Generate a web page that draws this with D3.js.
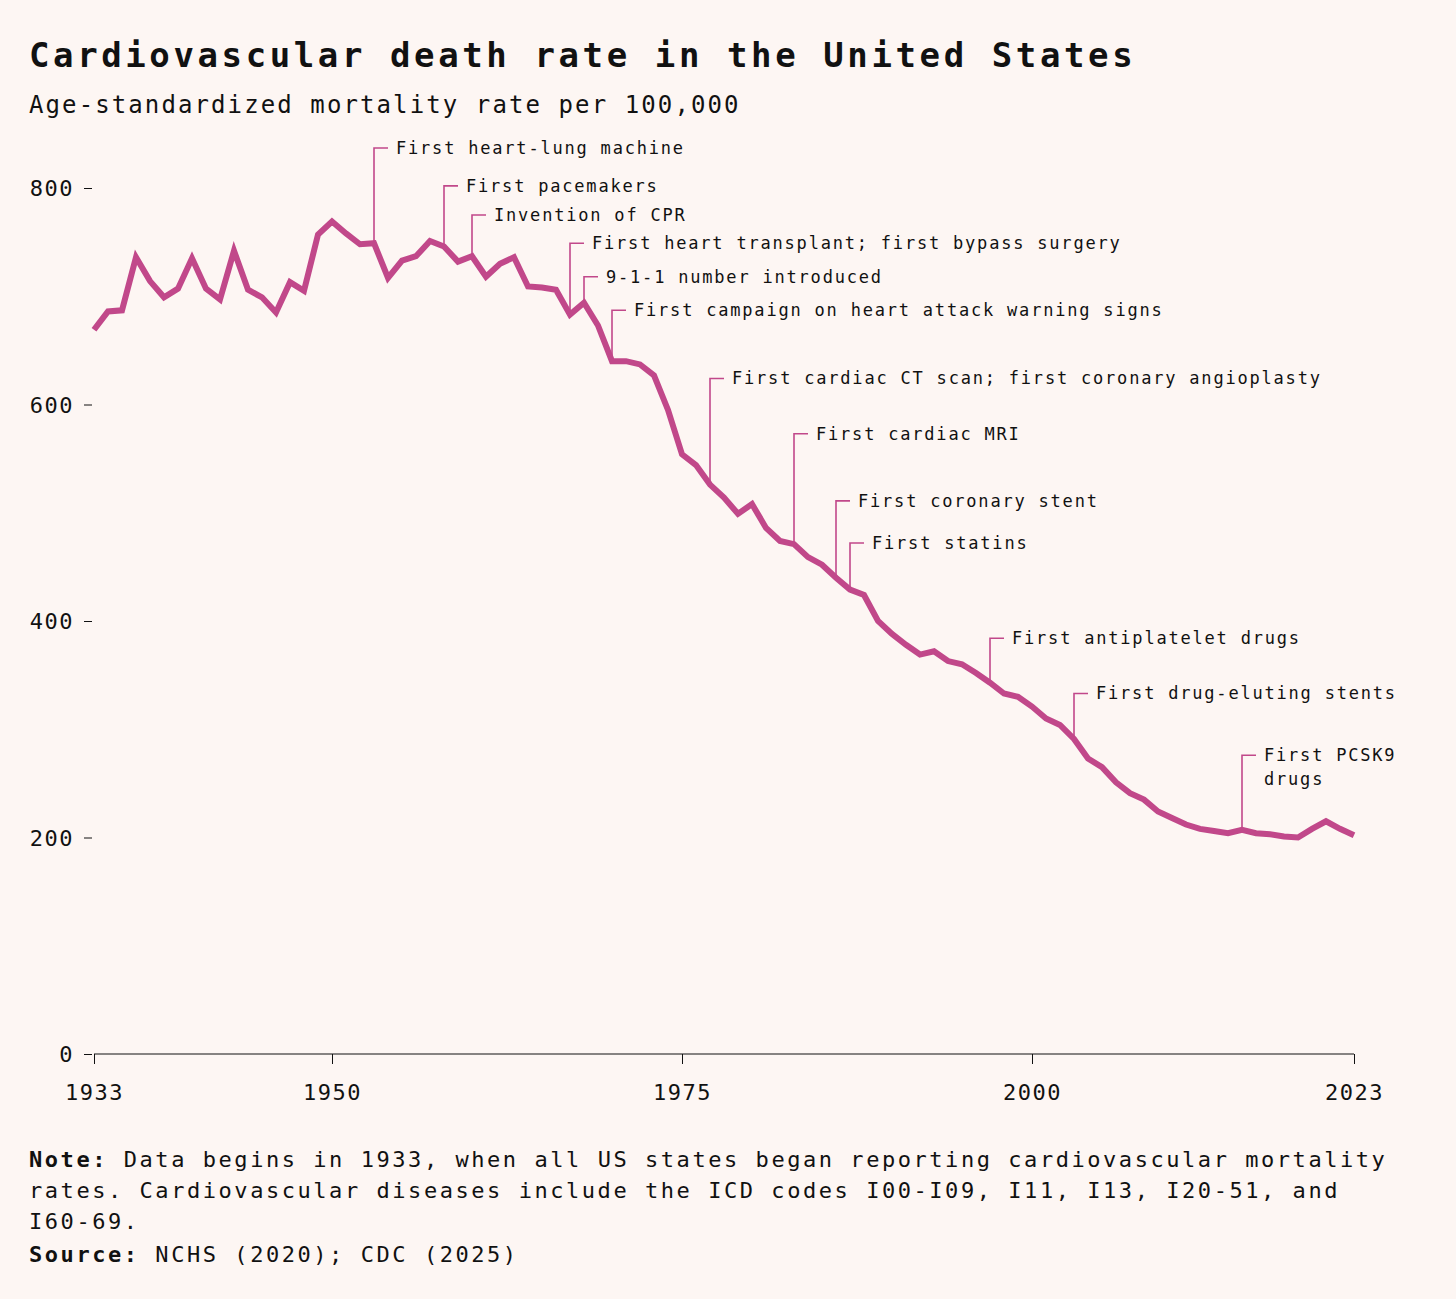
<!DOCTYPE html>
<html><head><meta charset="utf-8">
<script src="https://cdn.jsdelivr.net/npm/d3@7"></script>
<style>
body{margin:0;background:#fdf6f3;}
text{font-family:"DejaVu Sans Mono",monospace;fill:#111;}
</style></head><body>
<svg id="c" width="1456" height="1299"></svg>
<script>
const years = d3.range(1933, 2024);
const rates = [669,686,687,736,714,699,707,735,707,697,742,706,699,685,713,705,757,769,758,748,749,717,733,737,751,746,732,737,718,730,736,709,708,706,683,694,673,640,640,637,627,595,554,544,526,514,499,508,486,474,471,459,452,440,429,424,400,388,378,369,372,363,360,352,343,333,330,321,310,304,291,273,265,251,241,235,224,218,212,208,206,204,207,204,203,201,200,208,215,208,202];
const yTicks = [0,200,400,600,800];
const xTicks = [1933,1950,1975,2000,2023];
const annYears = [1953,1958,1960,1967,1968,1970,1977,1983,1986,1987,1997,2003,2015];
const annLevels = [837,802,775,749,718,687,624,573,511,472,384,333,276];
const annTexts = [["First heart-lung machine"],["First pacemakers"],["Invention of CPR"],["First heart transplant; first bypass surgery"],["9-1-1 number introduced"],["First campaign on heart attack warning signs"],["First cardiac CT scan; first coronary angioplasty"],["First cardiac MRI"],["First coronary stent"],["First statins"],["First antiplatelet drugs"],["First drug-eluting stents"],["First PCSK9","drugs"]];

const svg = d3.select("#c");
svg.append("rect").attr("width",1456).attr("height",1299).attr("fill","#fdf6f3");
const x = d3.scaleLinear().domain([1933,2023]).range([94,1354]);
const y = d3.scaleLinear().domain([0,800]).range([1054,188]);
const col = "#c1488a";

svg.append("text").attr("x",29).attr("y",67).attr("font-size",34).attr("font-weight","bold").attr("letter-spacing",3.6).text("Cardiovascular death rate in the United States");
svg.append("text").attr("x",29).attr("y",113).attr("font-size",24).attr("letter-spacing",2.1).text("Age-standardized mortality rate per 100,000");

const ya = svg.append("g").attr("transform","translate(92,0)").call(d3.axisLeft(y).tickValues(yTicks).tickSize(8).tickPadding(10).tickFormat(d3.format("d")));
ya.select(".domain").remove();
ya.selectAll("line").attr("stroke","#111");
ya.selectAll("text").attr("font-size",22).attr("letter-spacing",1.5).attr("font-family","DejaVu Sans Mono").attr("fill","#111").attr("dy","0.35em");

const xa = svg.append("g").attr("transform","translate(0,1054)").call(d3.axisBottom(x).tickValues(xTicks).tickSize(10).tickPadding(20).tickFormat(d3.format("d")));
xa.select(".domain").attr("stroke","#111").attr("d","M94,0H1354");
xa.selectAll("line").attr("stroke","#111");
xa.selectAll("text").attr("font-size",22).attr("letter-spacing",1.5).attr("font-family","DejaVu Sans Mono").attr("fill","#111");

annYears.forEach((yr,i)=>{
  const v = rates[years.indexOf(yr)];
  const px = x(yr), py0 = y(v), py1 = y(annLevels[i]);
  svg.append("path").attr("d",`M${px},${py0}V${py1}H${px+14}`).attr("fill","none").attr("stroke",col).attr("stroke-width",1.6);
  const t = svg.append("text").attr("x",px+22).attr("y",py1).attr("font-size",17).attr("letter-spacing",1.8);
  annTexts[i].forEach((s,j)=>t.append("tspan").attr("x",px+22).attr("dy",j?24:"0.35em").text(s));
});

svg.append("path").datum(years.map((yr,i)=>[yr,rates[i]]))
  .attr("d",d3.line().x(d=>x(d[0])).y(d=>y(d[1])))
  .attr("fill","none").attr("stroke",col).attr("stroke-width",6).attr("stroke-linejoin","miter");

const note = [["Note:"," Data begins in 1933, when all US states began reporting cardiovascular mortality"],["","rates. Cardiovascular diseases include the ICD codes I00-I09, I11, I13, I20-51, and"],["","I60-69."]];
note.forEach((l,i)=>{
  const t = svg.append("text").attr("x",29).attr("y",1167+i*31).attr("font-size",22).attr("letter-spacing",2.55);
  if(l[0]) t.append("tspan").attr("font-weight","bold").text(l[0]);
  t.append("tspan").text(l[1]);
});
const s = svg.append("text").attr("x",29).attr("y",1262).attr("font-size",22).attr("letter-spacing",2.55);
s.append("tspan").attr("font-weight","bold").text("Source:");
s.append("tspan").text(" NCHS (2020); CDC (2025)");
</script></body></html>
